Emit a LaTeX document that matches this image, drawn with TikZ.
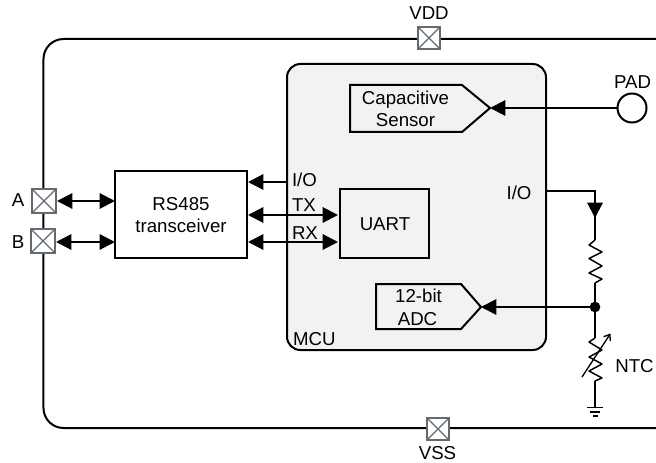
\documentclass[tikz,border=0pt]{standalone}
\usepackage{fontspec}
\setmainfont{Liberation Sans}
\usetikzlibrary{arrows.meta,calc}
\definecolor{padc}{HTML}{626B72}
\definecolor{mcuc}{HTML}{F2F2F2}
\tikzset{
  wire/.style={line width=1.5pt,line join=miter},
  thin wire/.style={line width=1.1pt},
  tip/.style={-{Triangle[length=11.5pt,width=11.5pt,sep=0pt]}},
  bitip/.style={{Triangle[length=11.5pt,width=11.5pt]}-{Triangle[length=11.5pt,width=11.5pt]}},
  block/.style={draw=black,line width=1.5pt,inner sep=0pt,outer sep=0pt,align=center},
  padbox/.style={rectangle,draw=padc,line width=1.4pt,fill=white,inner sep=0pt,outer sep=0pt,minimum size=#1,
    path picture={\draw[padc,line width=1pt] (path picture bounding box.north west)--(path picture bounding box.south east)
      (path picture bounding box.north east)--(path picture bounding box.south west);}},
  lbl/.style={inner sep=0pt,outer sep=0pt,align=center,anchor=base,font=\fontsize{14}{16}\selectfont},
}
\begin{document}
\begin{tikzpicture}[x=0.75pt,y=-0.75pt]
\useasboundingbox (0,0) rectangle (656,463);
\clip (0,0) rectangle (656,463);
% outer frame (runs off the right edge)
\node[block,rounded corners=15pt,minimum width=477.4pt,minimum height=291.75pt] (frame) at (361.75,233.5) {};
% MCU
\node[block,fill=mcuc,rounded corners=10pt,minimum width=194.25pt,minimum height=214.5pt] (mcu) at (416.5,207) {};
\node[lbl,anchor=base west] (mculbl) at (293,345) {MCU};
% pads
\node[padbox=16.5pt] (vdd) at (429,38) {};
\node[lbl] (vddlbl) at (429,20) {VDD};
\node[padbox=16.5pt] (vss) at (438,429) {};
\node[lbl] (vsslbl) at (437.5,459) {VSS};
\node[padbox=18pt] (pa) at (44,201) {};
\node[lbl] (alab) at (18,207) {A};
\node[padbox=18pt] (pb) at (43,241) {};
\node[lbl] (blab) at (18,248) {B};
% blocks
\node[block,minimum width=99pt,minimum height=65.25pt] (xcvr) at (181,214.5) {};
\node[lbl] (xcvr1) at (181,210) {RS485};
\node[lbl] (xcvr2) at (181,233) {transceiver};
\node[block,minimum width=66.75pt,minimum height=51.75pt] (uart) at (384.5,223.5) {};
\node[lbl] (uartlbl) at (385,231) {UART};
% port labels
\node[lbl,anchor=base west] (iol) at (292,187) {I/O};
\node[lbl,anchor=base west] (txl) at (292,212) {TX};
\node[lbl,anchor=base west] (rxl) at (292,239) {RX};
\node[lbl] (ior) at (519,200) {I/O};
% capacitive sensor
\coordinate (captip) at (490,108);
\draw[block,fill=mcuc] (350,85) -- (462,85) -- (captip) -- (462,132) -- (350,132) -- cycle;
\node[lbl] (cap1) at (405.5,105) {Capacitive};
\node[lbl] (cap2) at (405.5,127) {Sensor};
% ADC
\coordinate (adctip) at (481,307);
\draw[block,fill=mcuc] (376,284) -- (461,284) -- (adctip) -- (461,329) -- (376,329) -- cycle;
\node[lbl] (adc1) at (418.5,302) {12-bit};
\node[lbl] (adc2) at (417.5,325) {ADC};
% PAD
\node[circle,draw=black,line width=1.5pt,fill=white,inner sep=0pt,outer sep=0pt,minimum size=21.75pt] (pad) at (632,108) {};
\node[lbl] (padlbl) at (632.5,89) {PAD};
% connectors
\draw[wire,bitip] (pa.east) ++(1,0) coordinate (pae) -- (pae -| xcvr.west);
\draw[wire,bitip] (pb.east) ++(1,1) coordinate (pbe) -- (pbe -| xcvr.west);
\coordinate (iop) at (287,182);
\draw[wire,tip] (iop) -- ++(-39,0);
\coordinate (txa) at (248,215);
\coordinate (rxa) at (248,242);
\draw[wire,bitip] (txa) -- (338,215);
\draw[wire,bitip] (rxa) -- (338,242);
\draw[wire,tip] (pad.west) -- (captip);
% divider
\coordinate (rtop) at (595,240);
\coordinate (rbot) at (595,283);
\node[circle,fill=black,inner sep=0pt,outer sep=0pt,minimum size=8pt] (mid) at (595,307) {};
\coordinate (ntop) at (595,338);
\coordinate (nbot) at (595,381);
\coordinate (gnd) at (595,407);
\draw[wire,tip] (546,191) -- (595,191) -- (595,218);
\draw[wire] (595,215) -- (rtop);
\draw[thin wire,line join=round] (rtop) -- (589,245) -- (602,252) -- (589,258.5) -- (602,266) -- (589,273) -- (602,279) -- (rbot);
\draw[wire] (rbot) -- (mid);
\draw[wire] (mid) -- (ntop);
\draw[wire,tip] (mid) -- (adctip);
\draw[thin wire,line join=round] (ntop) -- (589,342) -- (602,350) -- (589,357) -- (602,364) -- (589,371) -- (602,378) -- (nbot);
\draw[wire] (nbot) -- (gnd);
\draw[line width=1pt,-{Straight Barb[length=4pt,width=6pt]}] (582,377) -- (610.5,333.5);
\draw[line width=1.1pt] (587,407.5) -- (603,407.5) (590,412) -- (600,412) (593,416) -- (598,416);
\node[lbl] (ntclbl) at (634.5,372) {NTC};
\end{tikzpicture}
\end{document}
